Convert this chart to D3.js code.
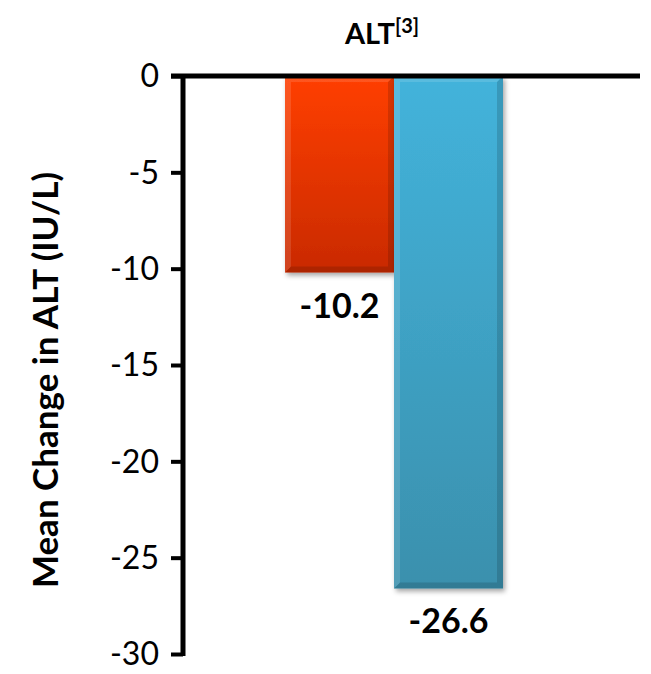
<!DOCTYPE html>
<html>
<head>
<meta charset="utf-8">
<script src="https://cdn.jsdelivr.net/npm/d3@7"></script>
<style>
  html, body { margin: 0; padding: 0; background: #fff; }
  svg { display: block; }
  text { font-family: Lato, "Open Sans", sans-serif; }
</style>
</head>
<body>
<svg id="chart" width="651" height="674"></svg>
<script>
// Mean change in ALT (IU/L) for two groups
const groups = ["Group A", "Group B"];
const values = [-10.2, -26.6];
const valueLabels = ["-10.2", "-26.6"];
const tickValues = [0, -5, -10, -15, -20, -25, -30];
const colorsTop = ["#ff3f02", "#43b3db"];
const colorsBottom = ["#c92a02", "#3a90ad"];

const svg = d3.select("#chart");
const defs = svg.append("defs");

const y = d3.scaleLinear().domain([0, -30]).range([76, 654]);
const x = d3.scaleBand().domain(groups).range([285, 503]).paddingInner(0).paddingOuter(0);
const axisX = 183;

// vertical gradients for bars
groups.forEach((g, i) => {
  const grad = defs.append("linearGradient")
    .attr("id", "grad" + i).attr("x1", 0).attr("y1", 0).attr("x2", 0).attr("y2", 1);
  grad.append("stop").attr("offset", "0%").attr("stop-color", colorsTop[i]);
  grad.append("stop").attr("offset", "100%").attr("stop-color", colorsBottom[i]);
});
const sh = defs.append("filter").attr("id", "shadow")
  .attr("x", "-10%").attr("y", "-10%").attr("width", "130%").attr("height", "130%");
sh.append("feDropShadow").attr("dx", 2).attr("dy", 3).attr("stdDeviation", 2.5)
  .attr("flood-color", "#000").attr("flood-opacity", 0.35);

// bars
const bars = svg.append("g").selectAll("g").data(groups).join("g");
bars.append("rect")
  .attr("x", d => x(d))
  .attr("y", y(0))
  .attr("width", x.bandwidth())
  .attr("height", (d, i) => y(values[i]) - y(0))
  .attr("fill", (d, i) => `url(#grad${i})`)
  .attr("filter", "url(#shadow)");
// bevel: light top/left edge, dark bottom/right edge
const bevel = 6;
bars.append("path")
  .attr("d", (d, i) => {
    const x0 = x(d), x1 = x(d) + x.bandwidth(), y0 = y(0), y1 = y(values[i]);
    return `M${x0},${y0}L${x1},${y0}L${x1 - bevel},${y0 + bevel}L${x0 + bevel},${y0 + bevel}L${x0 + bevel},${y1 - bevel}L${x0},${y1}Z`;
  })
  .attr("fill", "#ffffff").attr("opacity", 0.12);
bars.append("path")
  .attr("d", (d, i) => {
    const x0 = x(d), x1 = x(d) + x.bandwidth(), y0 = y(0), y1 = y(values[i]);
    return `M${x1},${y0}L${x1},${y1}L${x0},${y1}L${x0 + bevel},${y1 - bevel}L${x1 - bevel},${y1 - bevel}L${x1 - bevel},${y0 + bevel}Z`;
  })
  .attr("fill", "#000000").attr("opacity", 0.14);

// value labels
bars.append("text")
  .attr("x", d => x(d) + x.bandwidth() / 2)
  .attr("y", (d, i) => y(values[i]) + 45)
  .attr("text-anchor", "middle")
  .attr("font-size", 34).attr("font-weight", "bold").attr("fill", "#000")
  .text((d, i) => valueLabels[i]);

// y axis
const yAxis = d3.axisLeft(y).tickValues(tickValues).tickSize(12).tickPadding(12)
  .tickFormat(d => String(d));
const ax = svg.append("g").attr("transform", `translate(${axisX},0)`).call(yAxis);
ax.attr("font-size", null).attr("font-family", null);
ax.select(".domain").attr("stroke", "#000").attr("stroke-width", 5)
  .attr("d", `M0,${y(0)}V${y(-30) + 2}`);
ax.selectAll(".tick line").attr("stroke", "#000").attr("stroke-width", 4);
ax.selectAll(".tick text").attr("font-size", 32).attr("fill", "#000")
  .attr("dy", "0.34em");

// zero baseline
svg.append("line")
  .attr("x1", axisX - 12).attr("x2", 640)
  .attr("y1", y(0)).attr("y2", y(0))
  .attr("stroke", "#000").attr("stroke-width", 5);

// axis title
svg.append("text")
  .attr("transform", `translate(58,380) rotate(-90)`)
  .attr("text-anchor", "middle")
  .attr("font-size", 35).attr("font-weight", "bold")
  .text("Mean Change in ALT (IU/L)");

// chart title with reference superscript
const title = svg.append("text")
  .attr("x", 382).attr("y", 44)
  .attr("text-anchor", "middle")
  .attr("font-size", 29).attr("font-weight", "bold");
title.append("tspan").text("ALT");
title.append("tspan").attr("font-size", 20).attr("dy", -11).text("[3]");
</script>
</body>
</html>
